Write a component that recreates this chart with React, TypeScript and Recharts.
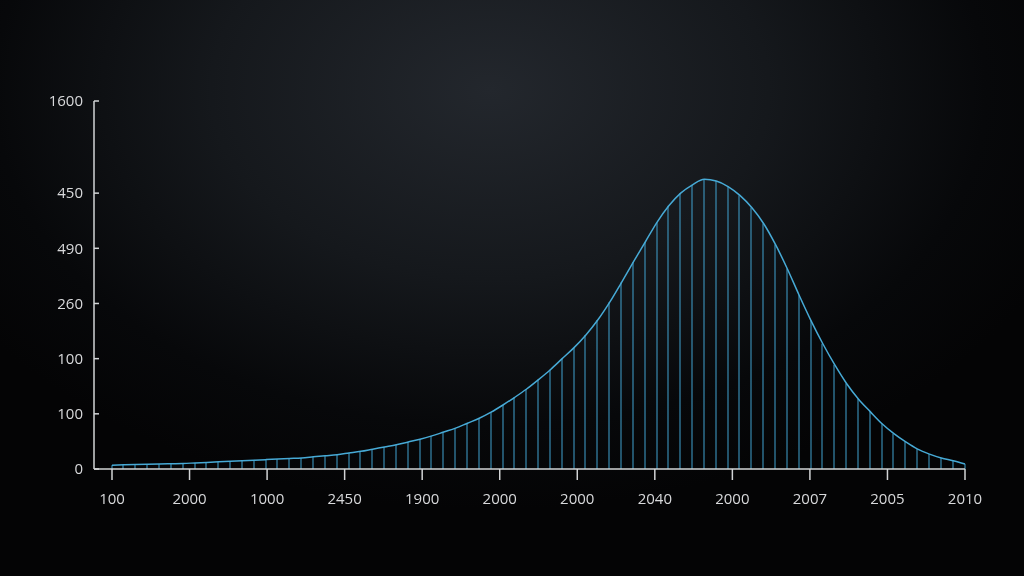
import { ComposedChart, Bar, Line, XAxis, YAxis } from 'recharts';

// curve samples, left to right
const values = [
  0.07, 0.075, 0.08, 0.085, 0.09, 0.095, 0.1, 0.11, 0.12, 0.13,
  0.14, 0.15, 0.16, 0.17, 0.18, 0.19, 0.2, 0.22, 0.24, 0.26,
  0.29, 0.32, 0.36, 0.4, 0.44, 0.49, 0.54, 0.6, 0.67, 0.74,
  0.83, 0.92, 1.03, 1.16, 1.3, 1.45, 1.62, 1.8, 2.0, 2.2,
  2.43, 2.7, 3.02, 3.38, 3.75, 4.11, 4.47, 4.77, 5.0, 5.15,
  5.25, 5.22, 5.12, 4.96, 4.74, 4.45, 4.07, 3.63, 3.15, 2.69,
  2.27, 1.89, 1.55, 1.27, 1.04, 0.82, 0.64, 0.49, 0.36, 0.27,
  0.2, 0.15, 0.09,
];

const xLabels = ['100', '2000', '1000', '2450', '1900', '2000', '2000', '2040', '2000', '2007', '2005', '2010'];
const yTicks = [0, 1, 2, 3, 4, 5, 6.67];
const yLabels = ['0', '100', '100', '260', '490', '450', '1600'];

const data = values.map((v, i) => ({ x: i, v }));
const lastX = values.length - 1;
const xTicks = xLabels.map((_, i) => (i * lastX) / (xLabels.length - 1));

const axisColor = '#d2d4d6';
const labelStyle = { fill: '#d8d9db', fontSize: 15, fontFamily: 'Open Sans, sans-serif' };

// thin crisp vertical line per sample
const Stick = (props: any) => {
  const { x, y, width, height } = props;
  if (!height) return null;
  return <rect x={Math.round(x + width / 2) - 0.5} y={y} width={1} height={height} fill="#40a2cf" />;
};

export default function App() {
  return (
    <div
      style={{
        position: 'fixed',
        left: 0,
        top: 0,
        width: 1024,
        height: 576,
        background: 'radial-gradient(ellipse 620px 420px at 490px 90px, #23272d 0%, #15181c 45%, #07080a 80%, #040405 100%)',
      }}
    >
      <ComposedChart width={1024} height={576} data={data} margin={{ top: 101, right: 59, bottom: 67, left: 34 }}>
        <XAxis
          dataKey="x"
          type="number"
          domain={[0, lastX]}
          ticks={xTicks}
          interval={0}
          tickFormatter={(_, i) => xLabels[i]}
          padding={{ left: 18, right: 0 }}
          stroke={axisColor}
          strokeWidth={1.5}
          tickSize={11}
          tickMargin={13}
          height={40}
          tick={labelStyle}
        />
        <YAxis
          type="number"
          domain={[0, 6.67]}
          ticks={yTicks}
          interval={0}
          tickFormatter={(_, i) => yLabels[i]}
          stroke={axisColor}
          strokeWidth={1.5}
          tickSize={-5}
          tickMargin={16}
          width={60}
          tick={labelStyle}
        />
        <Bar dataKey="v" barSize={1} shape={Stick} isAnimationActive={false} />
        <Line type="monotone" dataKey="v" stroke="#47aad6" strokeWidth={1.5} dot={false} isAnimationActive={false} />
      </ComposedChart>
    </div>
  );
}
